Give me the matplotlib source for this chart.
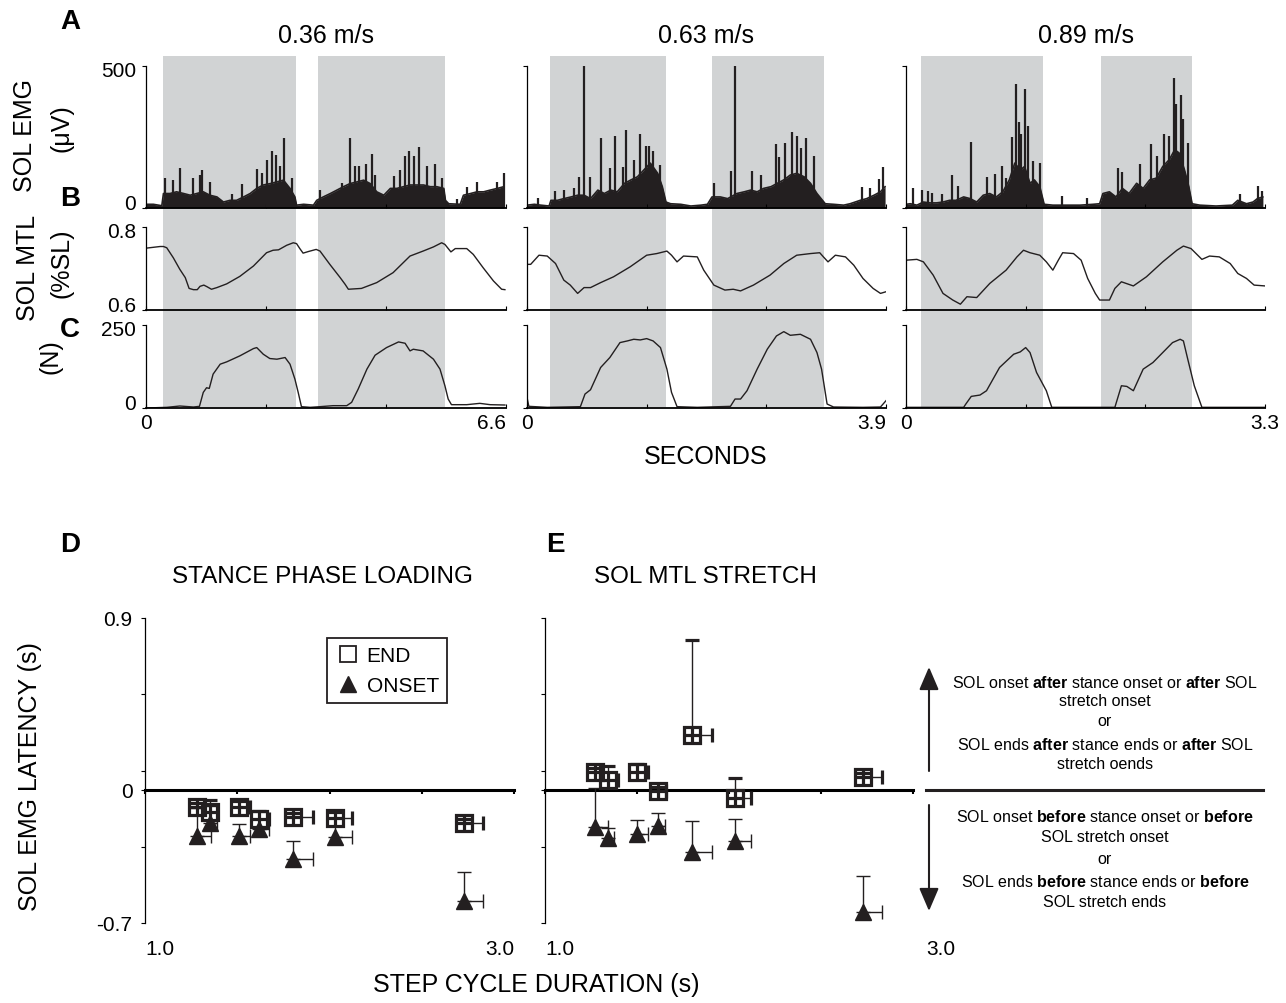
import numpy as np
import matplotlib
matplotlib.use('Agg')
import matplotlib.pyplot as plt
from matplotlib.patches import FancyArrowPatch
from matplotlib.lines import Line2D

plt.rcParams['font.family'] = ['Liberation Sans', 'DejaVu Sans']
plt.rcParams['mathtext.fontset'] = 'custom'
plt.rcParams['mathtext.rm'] = 'Liberation Sans'
plt.rcParams['mathtext.bf'] = 'Liberation Sans:bold'

INK = '#231f20'
SHADE = '#d1d3d4'

# ---------------- data: top traces ----------------
speeds = ['0.36 m/s', '0.63 m/s', '0.89 m/s']
durations = [6.6, 3.9, 3.3]
stance = [[(0.31, 2.75), (3.16, 5.48)],
          [(0.25, 1.51), (2.01, 3.23)],
          [(0.14, 1.26), (1.79, 2.63)]]

# EMG envelope (s, uV)
emg1_t = [0.00, 0.135, 0.29, 0.32, 0.44, 0.56, 0.69, 0.81, 0.93, 1.05, 1.17, 1.30, 1.42, 1.54, 1.66, 1.79, 1.91,
          2.03, 2.15, 2.28, 2.40, 2.52, 2.64, 2.73, 2.76, 2.89, 3.07, 3.13, 3.25, 3.38, 3.50, 3.62, 3.74, 3.87,
          3.99, 4.11, 4.23, 4.36, 4.48, 4.60, 4.72, 4.84, 4.97, 5.09, 5.21, 5.33, 5.46, 5.49, 5.55, 5.76, 5.82,
          5.95, 6.07, 6.19, 6.31, 6.44, 6.56]
emg1_v = [13, 13, 8, 51, 51, 57, 51, 45, 51, 57, 45, 39, 21, 27, 27, 39, 51,
          69, 81, 86, 92, 98, 69, 39, 10, 13, 10, 27, 39, 51, 63, 75, 86, 92,
          98, 86, 57, 45, 69, 69, 75, 81, 81, 81, 75, 75, 69, 27, 15, 13, 45,
          51, 57, 57, 63, 69, 75]
spk1_t = [0.35, 0.50, 0.62, 0.86, 0.99, 1.02, 1.17, 1.57, 1.76, 2.04, 2.12, 2.21, 2.31, 2.39, 2.46, 2.53, 2.67,
          3.19, 3.59, 3.74, 3.84, 3.90, 4.04, 4.14, 4.20, 4.54, 4.66, 4.75, 4.83, 4.91, 5.00, 5.16, 5.30, 5.43,
          5.70, 5.88, 6.07, 6.44, 6.56]
spk1_v = [105, 99, 140, 105, 116, 134, 93, 51, 84, 137, 122, 170, 200, 185, 149, 245, 105,
          63, 87, 245, 149, 149, 156, 190, 116, 113, 134, 184, 200, 184, 215, 149, 155, 105,
          33, 75, 93, 93, 122]

emg2_t = [0.00, 0.08, 0.15, 0.24, 0.26, 0.33, 0.40, 0.48, 0.55, 0.62, 0.69, 0.77, 0.84, 0.91, 0.98, 1.06, 1.13,
          1.20, 1.27, 1.34, 1.42, 1.47, 1.51, 1.56, 1.67, 1.78, 1.89, 1.96, 2.01, 2.10, 2.18, 2.28, 2.36, 2.43,
          2.50, 2.57, 2.65, 2.72, 2.79, 2.86, 2.93, 3.01, 3.08, 3.15, 3.21, 3.24, 3.33, 3.44, 3.51, 3.62, 3.69,
          3.77, 3.84, 3.89]
emg2_v = [10, 13, 10, 7, 27, 27, 33, 39, 45, 45, 33, 63, 51, 63, 57, 87, 99,
          110, 134, 158, 122, 75, 21, 15, 13, 7, 10, 13, 39, 39, 33, 51, 57, 63,
          57, 69, 75, 87, 99, 116, 122, 110, 87, 51, 27, 15, 13, 10, 15, 27, 33,
          45, 57, 75]
spk2_t = [0.12, 0.30, 0.40, 0.51, 0.56, 0.62, 0.68, 0.80, 0.90, 0.96, 1.04, 1.08, 1.16, 1.23, 1.29, 1.33, 1.37,
          1.45, 2.03, 2.22, 2.26, 2.44, 2.54, 2.70, 2.74, 2.80, 2.88, 2.93, 2.98, 3.03, 3.12, 3.64, 3.73, 3.82,
          3.87]
spk2_v = [36, 59, 65, 72, 110, 500, 110, 247, 140, 253, 146, 273, 170, 261, 217, 220, 200,
          152, 87, 131, 500, 131, 116, 227, 179, 229, 268, 255, 211, 246, 184, 75, 69, 101,
          146]

emg3_t = [0.00, 0.04, 0.10, 0.16, 0.22, 0.28, 0.34, 0.40, 0.46, 0.53, 0.59, 0.65, 0.71, 0.77, 0.83, 0.89, 0.95,
          1.00, 1.05, 1.09, 1.14, 1.18, 1.23, 1.27, 1.35, 1.47, 1.60, 1.72, 1.78, 1.81, 1.87, 1.93, 1.99, 2.05,
          2.12, 2.18, 2.24, 2.30, 2.36, 2.42, 2.47, 2.51, 2.56, 2.60, 2.63, 2.70, 2.85, 3.00, 3.05, 3.13, 3.19,
          3.23, 3.28]
emg3_v = [13, 15, 10, 21, 18, 18, 21, 27, 27, 39, 33, 21, 45, 51, 39, 57, 99,
          158, 134, 146, 87, 99, 75, 13, 10, 10, 10, 13, 15, 51, 57, 39, 69, 51,
          87, 69, 99, 105, 146, 170, 205, 194, 134, 75, 15, 10, 7, 10, 27, 15, 21,
          33, 39]
spk3_t = [0.06, 0.15, 0.20, 0.24, 0.33, 0.42, 0.48, 0.60, 0.74, 0.82, 0.88, 0.92, 0.97, 1.01, 1.04, 1.06, 1.09,
          1.12, 1.17, 1.23, 1.43, 1.66, 1.95, 1.99, 2.15, 2.25, 2.31, 2.37, 2.42, 2.46, 2.48, 2.53, 2.55, 2.59,
          3.07, 3.24, 3.27]
spk3_v = [71, 63, 59, 53, 48, 116, 77, 232, 110, 119, 149, 105, 251, 437, 304, 259, 419,
          289, 164, 160, 42, 36, 140, 128, 154, 227, 182, 259, 255, 459, 366, 398, 312, 229,
          48, 77, 61]

# SOL MTL (%SL)
mtl1_t = [0.00, 0.26, 0.32, 0.38, 0.50, 0.62, 0.72, 0.79, 0.87, 0.94, 0.99, 1.06, 1.12, 1.20, 1.30, 1.48, 1.72,
          1.97, 2.21, 2.33, 2.43, 2.58, 2.70, 2.76, 2.82, 2.88, 2.98, 3.12, 3.19, 3.37, 3.56, 3.65, 3.71, 3.95,
          4.23, 4.53, 4.84, 5.08, 5.27, 5.42, 5.48, 5.59, 5.67, 5.88, 6.00, 6.18, 6.37, 6.52, 6.58]
mtl1_v = [0.749, 0.753, 0.753, 0.750, 0.726, 0.698, 0.678, 0.652, 0.649, 0.649, 0.657, 0.660, 0.656, 0.650,
          0.654, 0.663, 0.681, 0.706, 0.738, 0.744, 0.745, 0.756, 0.762, 0.760, 0.748, 0.737, 0.741, 0.746,
          0.742, 0.710, 0.678, 0.662, 0.650, 0.652, 0.666, 0.690, 0.730, 0.742, 0.752, 0.762, 0.758, 0.740,
          0.748, 0.748, 0.734, 0.702, 0.670, 0.650, 0.649]
mtl2_t = [0.00, 0.04, 0.13, 0.22, 0.31, 0.40, 0.47, 0.55, 0.62, 0.69, 0.80, 0.94, 1.12, 1.30, 1.41, 1.52, 1.57,
          1.63, 1.70, 1.85, 1.92, 2.03, 2.15, 2.24, 2.32, 2.46, 2.64, 2.79, 2.93, 3.08, 3.18, 3.22, 3.27, 3.35,
          3.46, 3.55, 3.65, 3.76, 3.84, 3.90]
mtl2_v = [0.710, 0.710, 0.732, 0.730, 0.712, 0.672, 0.660, 0.640, 0.654, 0.654, 0.666, 0.680, 0.704, 0.732,
          0.736, 0.742, 0.732, 0.716, 0.730, 0.728, 0.696, 0.660, 0.648, 0.650, 0.646, 0.660, 0.684, 0.712,
          0.732, 0.736, 0.738, 0.728, 0.716, 0.732, 0.728, 0.708, 0.676, 0.652, 0.640, 0.644]
mtl3_t = [0.00, 0.10, 0.16, 0.25, 0.34, 0.43, 0.50, 0.56, 0.65, 0.77, 0.92, 1.02, 1.08, 1.14, 1.23, 1.29, 1.35,
          1.40, 1.44, 1.54, 1.61, 1.67, 1.74, 1.78, 1.87, 1.92, 1.98, 2.09, 2.21, 2.36, 2.49, 2.55, 2.62, 2.72,
          2.79, 2.88, 2.98, 3.05, 3.13, 3.20, 3.30]
mtl3_v = [0.720, 0.722, 0.716, 0.684, 0.640, 0.624, 0.614, 0.632, 0.630, 0.664, 0.696, 0.728, 0.744, 0.738,
          0.732, 0.716, 0.696, 0.720, 0.738, 0.736, 0.720, 0.676, 0.640, 0.624, 0.624, 0.652, 0.668, 0.658,
          0.680, 0.716, 0.744, 0.754, 0.748, 0.722, 0.730, 0.728, 0.712, 0.688, 0.676, 0.660, 0.658]

# vertical force (N)
frc1_t = [0.00, 0.38, 0.62, 0.87, 0.98, 1.05, 1.11, 1.16, 1.23, 1.36, 1.48, 1.72, 1.97, 2.03, 2.15, 2.27, 2.40,
          2.55, 2.64, 2.73, 2.79, 2.85, 3.01, 3.19, 3.43, 3.68, 3.77, 3.89, 4.05, 4.20, 4.41, 4.63, 4.75, 4.84,
          4.90, 5.08, 5.27, 5.39, 5.48, 5.54, 5.60, 5.88, 6.12, 6.31, 6.58]
frc1_v = [0, 2, 6, 3, 5, 47, 61, 59, 102, 132, 139, 157, 179, 182, 162, 149, 147,
          152, 132, 87, 47, 4, 2, 4, 7, 7, 17, 57, 117, 159, 182, 199, 195, 172,
          177, 172, 147, 117, 67, 27, 10, 10, 14, 10, 9]
frc2_t = [0.00, 0.02, 0.22, 0.58, 0.63, 0.69, 0.80, 0.90, 1.01, 1.09, 1.16, 1.23, 1.30, 1.37, 1.45, 1.52, 1.57,
          1.63, 1.85, 2.21, 2.26, 2.32, 2.39, 2.50, 2.61, 2.71, 2.79, 2.86, 2.97, 3.08, 3.15, 3.20, 3.26, 3.33,
          3.65, 3.84, 3.90]
frc2_v = [32, 5, 2, 4, 42, 55, 122, 152, 197, 202, 207, 205, 209, 202, 182, 117, 47,
          4, 2, 5, 27, 27, 52, 117, 177, 217, 230, 219, 222, 207, 167, 117, 12, 3,
          2, 3, 22]
frc3_t = [0.00, 0.53, 0.55, 0.60, 0.68, 0.74, 0.86, 0.99, 1.05, 1.10, 1.14, 1.20, 1.29, 1.34, 1.60, 1.92, 1.98,
          2.03, 2.09, 2.18, 2.27, 2.39, 2.45, 2.52, 2.55, 2.59, 2.65, 2.72, 3.30]
frc3_v = [2, 2, 12, 35, 39, 52, 122, 162, 169, 182, 167, 107, 52, 2, 2, 2, 67,
          65, 52, 117, 137, 177, 197, 207, 202, 147, 67, 2, 2]

emg_t = [emg1_t, emg2_t, emg3_t]
emg_v = [emg1_v, emg2_v, emg3_v]
spk_t = [spk1_t, spk2_t, spk3_t]
spk_v = [spk1_v, spk2_v, spk3_v]
mtl_t = [mtl1_t, mtl2_t, mtl3_t]
mtl_v = [mtl1_v, mtl2_v, mtl3_v]
frc_t = [frc1_t, frc2_t, frc3_t]
frc_v = [frc1_v, frc2_v, frc3_v]

# ---------------- data: latency panels ----------------
step_D = [1.28, 1.35, 1.51, 1.62, 1.80, 2.03, 2.73]
step_D_err = [0.04, 0.04, 0.06, 0.05, 0.11, 0.09, 0.10]
onset_step_D_err = [0.08, 0.04, 0.06, 0.05, 0.11, 0.09, 0.10]
end_D = [-0.093, -0.116, -0.090, -0.154, -0.142, -0.149, -0.177]
end_D_err = [0.02, 0.06, 0.03, 0.04, 0.02, 0.03, 0.02]
onset_D = [-0.245, -0.175, -0.245, -0.207, -0.364, -0.250, -0.583]
onset_D_err = [0.15, 0.09, 0.063, 0.05, 0.096, 0.10, 0.149]

step_E = [1.27, 1.345, 1.50, 1.615, 1.80, 2.03, 2.73]
end_E_xerr = [0.03, 0.05, 0.06, 0.04, 0.11, 0.09, 0.10]
onset_E_xerr = [0.07, 0.03, 0.06, 0.036, 0.11, 0.09, 0.10]
end_E = [0.094, 0.050, 0.091, -0.005, 0.286, -0.046, 0.068]
end_E_err = [0.02, 0.075, 0.044, 0.02, 0.498, 0.107, 0.02]
onset_E = [-0.198, -0.256, -0.233, -0.193, -0.329, -0.271, -0.644]
onset_E_err = [0.207, 0.056, 0.073, 0.068, 0.163, 0.115, 0.189]

upper_text = [r"SOL onset $\mathbf{after}$ stance onset or $\mathbf{after}$ SOL",
              "stretch onset", "or",
              r"SOL ends $\mathbf{after}$ stance ends or $\mathbf{after}$ SOL",
              "stretch oends"]
lower_text = [r"SOL onset $\mathbf{before}$ stance onset or $\mathbf{before}$",
              "SOL stretch onset", "or",
              r"SOL ends $\mathbf{before}$ stance ends or $\mathbf{before}$",
              "SOL stretch ends"]

# ---------------- figure ----------------
W, H = 1286, 1004
fig = plt.figure(figsize=(W / 100, H / 100), dpi=100)


def fx(x):
    return x / W


def fy(y):
    return 1 - y / H


def rect(x0, y0, x1, y1):
    return [x0 / W, 1 - y1 / H, (x1 - x0) / W, (y1 - y0) / H]


cols = [(146, 506), (527, 886), (906, 1265)]
rows = {'emg': (67, 209), 'mtl': (228, 311), 'frc': (326, 409)}
ylims = {'emg': (0, 500), 'mtl': (0.6, 0.8), 'frc': (0, 250)}
ylabs = {'emg': ('0', '500'), 'mtl': ('0.6', '0.8'), 'frc': ('0', '250')}
TICK_FS = 15
BIG_FS = 18

for c, (x0, x1) in enumerate(cols):
    T = durations[c]
    bg = fig.add_axes(rect(x0, 57, x1, 408))
    bg.set_xlim(0, T)
    bg.set_ylim(0, 1)
    bg.axis('off')
    for (a, b) in stance[c]:
        bg.axvspan(a, b, color=SHADE, lw=0, zorder=0)

    axes = {}
    for key, (y0, y1) in rows.items():
        ax = fig.add_axes(rect(x0, y0, x1, y1))
        ax.set_facecolor('none')
        ax.set_xlim(0, T)
        ax.set_ylim(*ylims[key])
        for s in ['top', 'right']:
            ax.spines[s].set_visible(False)
        ax.spines['left'].set_linewidth(0.9)
        ax.spines['bottom'].set_linewidth(1.3)
        ax.set_xticks([0, T / 3, 2 * T / 3, T])
        ax.set_yticks(list(ylims[key]))
        ax.set_yticklabels([])
        ax.tick_params(axis='x', direction='in', length=3, width=0.8, labelsize=TICK_FS)
        ax.tick_params(axis='y', direction='out', length=3, width=0.8)
        if c == 0:
            lo, hi = ylims[key]
            ax.annotate(ylabs[key][0], xy=(0, lo), xycoords=('axes fraction', 'data'),
                        xytext=(-7, 3), textcoords='offset points', ha='right', va='center',
                        fontsize=TICK_FS)
            ax.annotate(ylabs[key][1], xy=(0, hi), xycoords=('axes fraction', 'data'),
                        xytext=(-7, -3), textcoords='offset points', ha='right', va='center',
                        fontsize=TICK_FS)
        axes[key] = ax

    ax = axes['emg']
    ax.fill_between(emg_t[c], 0, emg_v[c], color=INK, lw=0)
    ax.plot(emg_t[c], emg_v[c], color=INK, lw=1.2)
    ax.vlines(spk_t[c], 0, spk_v[c], color=INK, lw=1.6)

    axes['mtl'].plot(mtl_t[c], mtl_v[c], color=INK, lw=1.0)
    axes['frc'].plot(frc_t[c], frc_v[c], color=INK, lw=1.0)

    for key in ['emg', 'mtl']:
        axes[key].set_xticklabels([])
    axes['frc'].set_xticklabels(['0', '', '', f'{T:g}'])
    if c < 2:
        axes['frc'].get_xticklabels()[-1].set_ha('right')

    fig.text(fx((x0 + x1) / 2), fy(36), speeds[c], fontsize=BIG_FS, ha='center', va='center')

# left labels
fig.text(fx(25), fy(135), 'SOL EMG', rotation=90, fontsize=BIG_FS, ha='center', va='center')
fig.text(fx(62), fy(128), '(μV)', rotation=90, fontsize=BIG_FS, ha='center', va='center')
fig.text(fx(28), fy(268), 'SOL MTL', rotation=90, fontsize=BIG_FS, ha='center', va='center')
fig.text(fx(62), fy(263), '(%SL)', rotation=90, fontsize=BIG_FS, ha='center', va='center')
fig.text(fx(50), fy(357), '(N)', rotation=90, fontsize=BIG_FS, ha='center', va='center')
fig.text(fx(706), fy(457), 'SECONDS', fontsize=BIG_FS, ha='center', va='center')

for lab, (x, y) in {'A': (70, 22), 'B': (70, 199), 'C': (70, 330), 'D': (70, 545), 'E': (555, 545)}.items():
    fig.text(fx(x), fy(y), lab, fontsize=20, fontweight='bold', ha='center', va='center')

# ---------------- latency panels ----------------
bottom_axes = [(145, 514), (545, 913)]
titles = ['STANCE PHASE LOADING', 'SOL MTL STRETCH']
datasets = [(step_D, step_D_err, onset_step_D_err, end_D, end_D_err, onset_D, onset_D_err),
            (step_E, end_E_xerr, onset_E_xerr, end_E, end_E_err, onset_E, onset_E_err)]
for i, (x0, x1) in enumerate(bottom_axes):
    ax = fig.add_axes(rect(x0, 619, x1, 924))
    ax.set_facecolor('none')
    ax.set_xlim(1.0, 3.0)
    ax.set_ylim(-0.7, 0.9)
    for s in ['top', 'right']:
        ax.spines[s].set_visible(False)
    ax.spines['bottom'].set_position(('data', 0))
    ax.spines['bottom'].set_linewidth(2.2)
    ax.spines['left'].set_linewidth(0.9)
    ax.set_xticks([1.0, 1.5, 2.0, 2.5, 3.0])
    ax.set_xticklabels([])
    ax.tick_params(axis='x', direction='out', length=3, width=1.5)
    ax.set_yticks([0.9, 0.5, 0.1, 0.0, -0.3, -0.7])
    if i == 0:
        ax.set_yticklabels(['0.9', '', '', '0', '', '-0.7'])
    else:
        ax.set_yticklabels([])
    ax.tick_params(axis='y', direction='out', length=3, width=0.8, labelsize=TICK_FS, pad=6)

    sx, sxe_end, sxe_on, ye, yee, yo, yoe = datasets[i]
    z = [0] * len(sx)
    ax.errorbar(sx, ye, yerr=[z, yee], xerr=[z, sxe_end], fmt='s', ms=11, mfc='none', mec=INK,
                mew=2.3, ecolor=INK, elinewidth=1, capsize=5, capthick=1, zorder=3)
    ax.errorbar(sx, yo, yerr=[z, yoe], xerr=[z, sxe_on], fmt='^', ms=12, mfc=INK, mec=INK,
                ecolor=INK, elinewidth=1, capsize=5, capthick=1, zorder=3)
    ax.text(1.0, -0.836, '1.0', fontsize=TICK_FS, ha='left', va='center', clip_on=False)
    if i == 0:
        ax.text(3.0, -0.836, '3.0', fontsize=TICK_FS, ha='right', va='center', clip_on=False)
        hs = [Line2D([], [], marker='s', ms=11, mfc='none', mec=INK, mew=1.3, ls='none'),
              Line2D([], [], marker='^', ms=12, mfc=INK, mec=INK, ls='none')]
        leg = ax.legend(hs, ['END', 'ONSET'], loc='upper left', bbox_to_anchor=(0.493, 0.934),
                        fontsize=TICK_FS, frameon=True, fancybox=False, edgecolor=INK, framealpha=1,
                        handletextpad=0.3, borderpad=0.4, labelspacing=0.5, handlelength=1.2,
                        borderaxespad=0)
        leg.get_frame().set_linewidth(1.3)
    else:
        ax.text(3.07, -0.836, '3.0', fontsize=TICK_FS, ha='left', va='center', clip_on=False)
    fig.text(fx([322, 705][i]), fy(577), titles[i], fontsize=17.5, ha='center', va='center')

fig.text(fx(30), fy(777), 'SOL EMG LATENCY (s)', rotation=90, fontsize=BIG_FS, ha='center', va='center')
fig.text(fx(536), fy(985), 'STEP CYCLE DURATION (s)', fontsize=BIG_FS, ha='center', va='center')

# right-hand explanation
fig.add_artist(Line2D([fx(926), fx(1263)], [fy(791), fy(791)], transform=fig.transFigure, color=INK, lw=2.2))
fig.add_artist(FancyArrowPatch((fx(929), fy(772)), (fx(929), fy(668)), transform=fig.transFigure,
                               arrowstyle='-|>,head_length=14,head_width=6', mutation_scale=1,
                               color=INK, lw=1.5, shrinkA=0, shrinkB=0))
fig.add_artist(FancyArrowPatch((fx(929), fy(806)), (fx(929), fy(912)), transform=fig.transFigure,
                               arrowstyle='-|>,head_length=14,head_width=6', mutation_scale=1,
                               color=INK, lw=1.5, shrinkA=0, shrinkB=0))
for txt, y in zip(upper_text, [683, 702, 722, 745, 765]):
    fig.text(fx(1105), fy(y), txt, fontsize=11.5, ha='center', va='center')
for txt, y in zip(lower_text, [817, 838, 860, 882, 903]):
    fig.text(fx(1105), fy(y), txt, fontsize=11.5, ha='center', va='center')

fig.savefig('out.png', dpi=100)
